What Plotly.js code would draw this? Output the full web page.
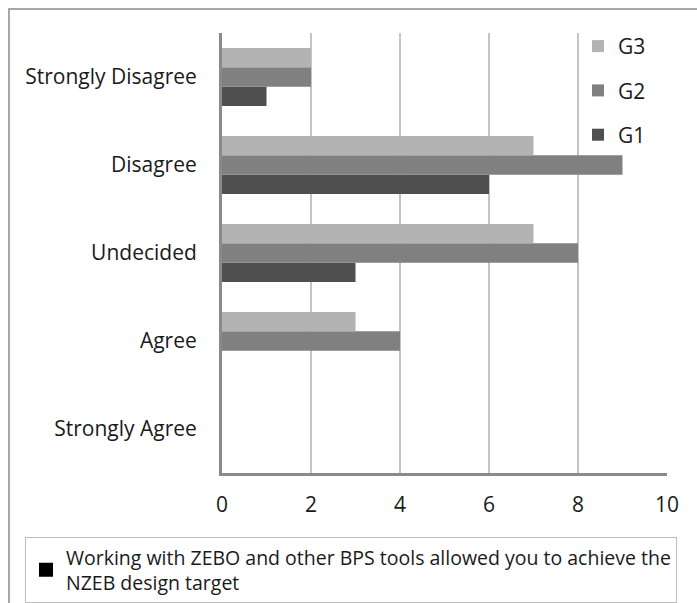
<!DOCTYPE html>
<html>
<head>
<meta charset="utf-8">
<script src="https://cdn.plot.ly/plotly-3.0.1.min.js"></script>
<style>html,body{margin:0;padding:0;background:#fff;}#chart{width:697px;height:603px;}</style>
</head>
<body>
<div id="chart"></div>
<script>
const categories = ['Strongly Agree', 'Agree', 'Undecided', 'Disagree', 'Strongly Disagree'];
const g1 = [0, 0, 3, 6, 1];
const g2 = [0, 4, 8, 9, 2];
const g3 = [0, 3, 7, 7, 2];
const seriesNames = ['G1', 'G2', 'G3'];
const xTicks = [0, 2, 4, 6, 8, 10];
const questionLabel = 'Working with ZEBO and other BPS tools allowed you to achieve the<br>NZEB design target';

const colors = ['#4f4f4f', '#808080', '#b3b3b3'];
const FONT = 'Open Sans, Calibri, sans-serif';

const seriesValues = [g1, g2, g3];
const traces = seriesValues.map((vals, i) => ({
  type: 'bar',
  orientation: 'h',
  name: seriesNames[i],
  x: vals,
  y: categories,
  marker: {color: colors[i]},
  legendgroup: seriesNames[i],
  legendrank: 100 * (seriesValues.length - i),
  hoverinfo: 'x+name'
}));

traces.push({
  type: 'scatter',
  mode: 'markers',
  x: [null],
  y: [null],
  name: questionLabel,
  marker: {color: '#000', symbol: 'square', size: 14},
  legend: 'legend2',
  showlegend: true
});

const layout = {
  width: 697,
  height: 603,
  margin: {l: 222, r: 30, t: 33, b: 130, autoexpand: false},
  paper_bgcolor: '#ffffff',
  plot_bgcolor: '#ffffff',
  barmode: 'group',
  bargap: 0.34,
  bargroupgap: 0,
  font: {family: FONT, size: 21, color: '#1a1a1a'},
  xaxis: {
    range: [0, 10],
    tickvals: xTicks,
    ticktext: xTicks.map(String),
    showgrid: true,
    gridcolor: '#c4c4c4',
    gridwidth: 1.5,
    zeroline: false,
    showline: true,
    linecolor: '#8a8a8a',
    linewidth: 3,
    ticks: '',
    ticklabelstandoff: 11,
    tickfont: {family: FONT, size: 21, color: '#1a1a1a'},
    fixedrange: true
  },
  yaxis: {
    type: 'category',
    categoryorder: 'array',
    categoryarray: categories,
    range: [-0.5, 4.5],
    showgrid: false,
    zeroline: false,
    showline: true,
    linecolor: '#8a8a8a',
    linewidth: 3,
    ticks: '',
    ticklabelstandoff: 18,
    tickfont: {family: FONT, size: 21, color: '#1a1a1a'},
    fixedrange: true
  },
  legend: {
    x: 0.80, y: 1.016, xanchor: 'left', yanchor: 'top',
    traceorder: 'grouped',
    tracegroupgap: 14,
    bgcolor: 'rgba(255,255,255,0)',
    font: {family: FONT, size: 21, color: '#1a1a1a'},
    itemwidth: 30
  },
  legend2: {
    x: -0.4427, y: -0.145, xanchor: 'left', yanchor: 'top',
    bgcolor: '#ffffff',
    bordercolor: '#bdbdbd',
    borderwidth: 1,
    font: {family: FONT, size: 19.5, color: '#1a1a1a'}
  },
  shapes: [{
    type: 'rect', xref: 'paper', yref: 'paper',
    x0: -0.4787, x1: 1.1, y0: -0.35, y1: 1.0545,
    line: {color: '#8c8c8c', width: 1.5},
    fillcolor: 'rgba(0,0,0,0)',
    layer: 'below'
  }],
  showlegend: true
};

Plotly.newPlot('chart', traces, layout, {displayModeBar: false, staticPlot: true});
</script>
</body>
</html>
